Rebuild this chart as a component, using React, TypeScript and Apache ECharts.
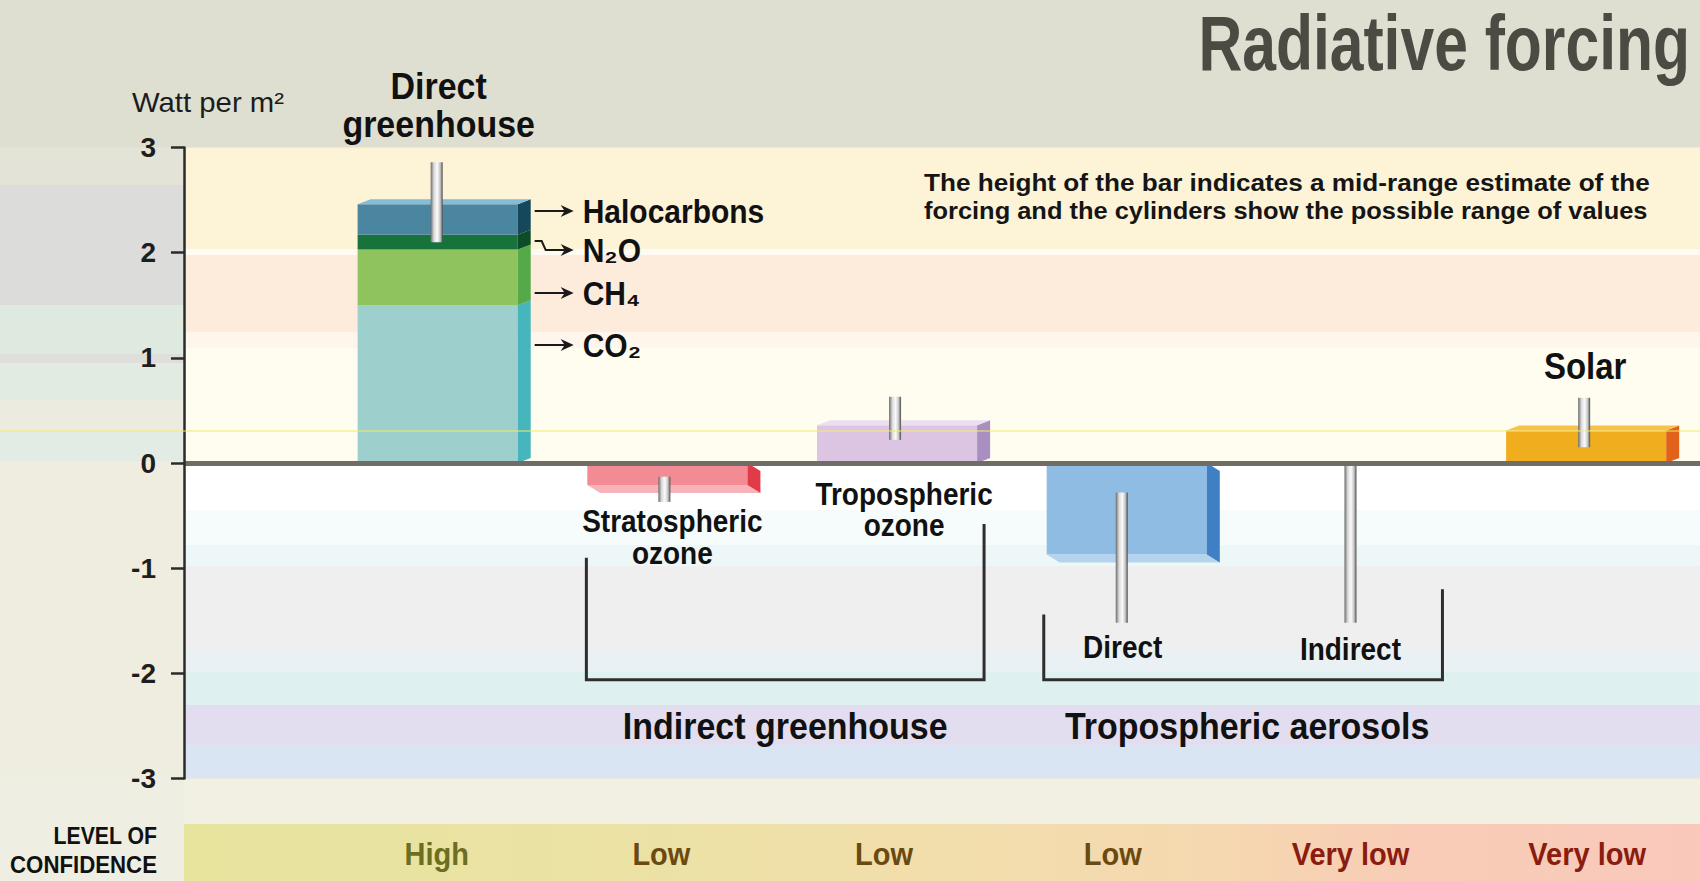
import React, { useEffect, useRef } from "react";
import * as echarts from "echarts";

// ---------------- data ----------------
const categories = [
  "Direct greenhouse",
  "Stratospheric ozone",
  "Tropospheric ozone",
  "Tropospheric aerosols – direct",
  "Tropospheric aerosols – indirect",
  "Solar",
];
const greenhouseGases = ["CO₂", "CH₄", "N₂O", "Halocarbons"];
const greenhouseForcing = [1.5, 0.53, 0.14, 0.29];
const otherForcing = [null, -0.21, 0.36, -0.87, null, 0.31];
const rangeLow = [2.1, -0.37, 0.22, -1.52, -1.52, 0.15];
const rangeHigh = [2.86, -0.13, 0.63, -0.28, 0, 0.62];
const confidence = ["High", "Low", "Low", "Low", "Very low", "Very low"];
const barLabels = ["", "Stratospheric\nozone", "Tropospheric\nozone", "Direct", "Indirect", "Solar"];
const groupNames = ["Indirect greenhouse", "Tropospheric aerosols"];
const yTicks = [-3, -2, -1, 0, 1, 2, 3];

// ---------------- styles ----------------
const FONT = "'Liberation Sans', Arial, Helvetica, sans-serif";
const TALL = 1.1; // condensed look: taller glyphs, squeezed horizontally
const gasStyles = [
  { front: "#9dcfcc", side: "#47b6bc", top: "#b9e0dc" },
  { front: "#8ec35d", side: "#55aa47", top: "#a8d27a" },
  { front: "#17723b", side: "#0c4c26", top: "#2f8a50" },
  { front: "#4a86a0", side: "#15485a", top: "#86bdd6" },
];
const categoryStyles: any[] = [
  null,
  { front: "#f28b93", side: "#e13b48", top: "#f7b3b8" },
  { front: "#dcc5e3", side: "#a88fc0", top: "#ebdff1" },
  { front: "#8ebce3", side: "#3f7fc4", top: "#b4d3ee" },
  null,
  { front: "#f0ae1f", side: "#e2611b", top: "#f6c24a" },
];
const cylinderShift = [0, -2, -1, -4, -5, -1];
const confColors: Record<string, string> = { High: "#6b6f1f", Low: "#6b4a12", "Very low": "#8a1c10" };

const allStyles = [...gasStyles, ...categoryStyles.filter(Boolean)];

// bar segments: [category, from, to, styleIndex, hasCap]
const barData: number[][] = [];
{
  let acc = 0;
  greenhouseForcing.forEach((v, k) => {
    barData.push([0, acc, acc + v, k, k === greenhouseForcing.length - 1 ? 1 : 0]);
    acc += v;
  });
  let si = gasStyles.length;
  otherForcing.forEach((v, i) => {
    if (v != null) {
      barData.push([i, 0, v, si, 1]);
      si++;
    }
  });
}
const rangeData = categories.map((_, i) => [i, rangeLow[i], rangeHigh[i]]);

const DX = 13;
const DY_UP = 5;
const DY_DOWN = 8;

function renderBar(_params: any, api: any) {
  const c = api.value(0);
  const from = api.value(1);
  const to = api.value(2);
  const st = allStyles[api.value(3)];
  const cap = api.value(4);
  const w = api.size([1, 0])[0] * 0.697;
  const p0 = api.coord([c, from]);
  const p1 = api.coord([c, to]);
  const l = p0[0] - w / 2 + 1;
  const r = l + w;
  const children: any[] = [];
  if (to >= from) {
    const yT = p1[1];
    const yB = p0[1];
    children.push({ type: "rect", shape: { x: l, y: yT, width: w, height: yB - yT }, style: { fill: st.front } });
    children.push({
      type: "polygon",
      shape: { points: [[r, yT], [r + DX, yT - DY_UP], [r + DX, yB - DY_UP], [r, yB]] },
      style: { fill: st.side },
    });
    if (cap)
      children.push({
        type: "polygon",
        shape: { points: [[l, yT], [l + DX, yT - DY_UP], [r + DX, yT - DY_UP], [r, yT]] },
        style: { fill: st.top },
      });
  } else {
    const yT = p0[1];
    const yB = p1[1];
    children.push({ type: "rect", shape: { x: l, y: yT, width: w, height: yB - yT }, style: { fill: st.front } });
    children.push({
      type: "polygon",
      shape: { points: [[l, yB], [l + DX, yB + DY_DOWN], [r + DX, yB + DY_DOWN], [r, yB]] },
      style: { fill: st.top },
    });
    children.push({
      type: "polygon",
      shape: { points: [[r, yT], [r + DX, yT + DY_DOWN], [r + DX, yB + DY_DOWN], [r, yB]] },
      style: { fill: st.side },
    });
  }
  return { type: "group", children };
}

function renderCylinder(_params: any, api: any) {
  const c = api.value(0);
  const pL = api.coord([c, api.value(1)]);
  const pH = api.coord([c, api.value(2)]);
  const cw = 12;
  const x = pL[0] - cw / 2 + cylinderShift[c];
  return {
    type: "rect",
    shape: { x, y: pH[1], width: cw, height: pL[1] - pH[1] },
    style: {
      fill: new echarts.graphic.LinearGradient(0, 0, 1, 0, [
        { offset: 0, color: "#6a6a6a" },
        { offset: 0.28, color: "#dcdcdc" },
        { offset: 0.55, color: "#fbfbfb" },
        { offset: 0.8, color: "#c4c4c4" },
        { offset: 1, color: "#4a4a4a" },
      ]),
    },
  };
}

const ctx = typeof document !== "undefined" ? document.createElement("canvas").getContext("2d") : null;
function fitScale(text: string, size: number, weight: string, target: number) {
  if (!ctx) return 1;
  ctx.font = `${weight} ${size}px ${FONT}`;
  const m = ctx.measureText(text).width;
  return m > 0 ? target / m : 1;
}

function txt(text: string, x: number, y: number, o: any = {}) {
  const align = o.align ?? "center";
  const condensed = o.condensed ?? false;
  const size = (o.size ?? 28) * (condensed ? TALL : 1);
  return {
    type: "text",
    silent: true,
    z: 20,
    x,
    y,
    scaleX: o.scaleX ?? (condensed ? 1 / TALL : 1),
    style: {
      text,
      fill: o.color ?? "#111111",
      fontSize: size,
      fontWeight: o.weight ?? "bold",
      fontFamily: FONT,
      align,
      textAlign: align,
      verticalAlign: "middle",
      textVerticalAlign: "middle",
    },
  };
}

function buildGraphics(X: (c: number) => number, Y: (v: number) => number) {
  const els: any[] = [];
  const W = 1700;
  const gl = X(-1.1);
  const yTop = Y(3);
  const yBot = Y(-3);
  const rect = (x: number, y: number, w: number, h: number, fill: any) => ({
    type: "rect",
    silent: true,
    z: -10,
    shape: { x, y, width: w, height: h },
    style: { fill },
  });
  // page background
  els.push(rect(0, 0, W, 881, "#dfdfd1"));
  const leftStripes: [number, number, string][] = [
    [yTop, 185, "#e3e3d7"],
    [185, 305, "#dcdcda"],
    [305, 354, "#deeadf"],
    [354, 363, "#dededa"],
    [363, 400, "#e2ebe1"],
    [400, 432, "#ebebe0"],
    [432, 461, "#e3ece4"],
    [461, 881, "#eeeddf"],
  ];
  leftStripes.forEach(([a, b, c]) => els.push(rect(0, a, gl, b - a, c)));
  const plotBands: [number, number, string][] = [
    [yTop, 249, "#fdf3d7"],
    [249, 255, "#fffbf3"],
    [255, 332, "#fdebdc"],
    [332, 348, "#fef6ec"],
    [348, 463, "#fffdf0"],
    [463, 510, "#ffffff"],
    [510, 545, "#f6fbfc"],
    [545, 566, "#eef7f8"],
    [566, 650, "#efeff0"],
    [650, 672, "#e9f1f4"],
    [672, 705, "#dff0f1"],
    [705, 745, "#e2def0"],
    [745, yBot, "#d9e5f2"],
    [yBot, 824, "#f2f0e2"],
  ];
  plotBands.forEach(([a, b, c]) => els.push(rect(gl, a, W - gl, b - a, c)));
  els.push(rect(0, 778, gl, 103, "#efeee2"));
  els.push(
    rect(
      gl,
      824,
      W - gl,
      57,
      new echarts.graphic.LinearGradient(0, 0, 1, 0, [
        { offset: 0, color: "#e7e49e" },
        { offset: 0.28, color: "#ebe2a4" },
        { offset: 0.5, color: "#f2deac" },
        { offset: 0.68, color: "#f5d8b0" },
        { offset: 0.8, color: "#f8cdb6" },
        { offset: 1, color: "#f9c8bb" },
      ])
    )
  );
  // scan artifact line
  els.push({
    type: "line",
    silent: true,
    z: 30,
    shape: { x1: 0, y1: 431, x2: W, y2: 431 },
    style: { stroke: "#f3ec66", lineWidth: 1.2 },
  });

  // title and notes
  els.push(txt("Radiative forcing", 1690, 43, { size: 78, color: "#4b4b44", align: "right", scaleX: fitScale("Radiative forcing", 78, "bold", 492) }));
  els.push(txt("Watt per m²", 132, 102, { size: 27, weight: "normal", color: "#1c1c1c", align: "left", scaleX: fitScale("Watt per m²", 27, "normal", 152) }));
  const n1 = "The height of the bar indicates a mid-range estimate of the";
  const n2 = "forcing and the cylinders show the possible range of values";
  els.push(txt(n1, 924, 182, { size: 24, align: "left", color: "#151515", scaleX: fitScale(n1, 24, "bold", 726) }));
  els.push(txt(n2, 924, 211, { size: 24, align: "left", color: "#151515", scaleX: fitScale(n2, 24, "bold", 724) }));

  // direct greenhouse heading
  els.push(txt("Direct", X(0) + 2, 86, { size: 34, condensed: true }));
  els.push(txt("greenhouse", X(0) + 2, 124, { size: 34, condensed: true }));

  // greenhouse gas labels with arrows
  const gasLabelY = [345, 293, 250, 211];
  const ax0 = X(0) + 98;
  const tip = X(0) + 137;
  greenhouseGases.forEach((g, k) => {
    const y = gasLabelY[k];
    els.push(txt(g, X(0) + 146, y, { size: 30, align: "left", condensed: true }));
    const pts = k === 2 ? [[ax0, y - 9], [ax0 + 7, y - 9], [ax0 + 11, y], [tip - 6, y]] : [[ax0, y], [tip - 6, y]];
    els.push({ type: "polyline", silent: true, z: 20, shape: { points: pts }, style: { stroke: "#1a1a1a", lineWidth: 2, fill: null } });
    els.push({
      type: "polygon",
      silent: true,
      z: 20,
      shape: { points: [[tip - 13, y - 6], [tip, y], [tip - 13, y + 6], [tip - 9, y]] },
      style: { fill: "#1a1a1a" },
    });
  });

  // bar labels
  const labelPos: [number, number[]][] = [
    [0, []],
    [6, [521, 553]],
    [8, [494, 525]],
    [-3, [647]],
    [-5, [649]],
    [0, [366]],
  ];
  barLabels.forEach((lab, i) => {
    if (!lab) return;
    const [dx, ys] = labelPos[i];
    lab.split("\n").forEach((line, j) => {
      els.push(txt(line, X(i) + dx, ys[j], { size: i === 5 ? 33 : 28, condensed: true }));
    });
  });

  // group brackets
  const bracket = [
    { l: X(1) - 80, r: X(2) + 88, lt: Y(-0.9), rt: Y(-0.58) },
    { l: X(3) - 82, r: X(4) + 87, lt: Y(-1.44), rt: Y(-1.2) },
  ];
  const bb = Y(-2.06);
  groupNames.forEach((name, g) => {
    const b = bracket[g];
    els.push({
      type: "polyline",
      silent: true,
      z: 20,
      shape: { points: [[b.l, b.lt], [b.l, bb], [b.r, bb], [b.r, b.rt]] },
      style: { stroke: "#2e2e2e", lineWidth: 3, fill: null },
    });
    const cx = (b.l + b.r) / 2 + (g === 1 ? 4 : 0);
    els.push(txt(name, cx, 726, { size: 34, condensed: true }));
  });

  // level of confidence
  els.push(txt("LEVEL OF", 157, 836, { size: 24, align: "right", scaleX: fitScale("LEVEL OF", 24, "bold", 104) }));
  els.push(txt("CONFIDENCE", 157, 865, { size: 23, align: "right", scaleX: fitScale("CONFIDENCE", 23, "bold", 147) }));
  const confDx = [0, -5, -12, -13, -5, 2];
  confidence.forEach((c, i) => {
    els.push(txt(c, X(i) + confDx[i], 853, { size: 29, color: confColors[c], condensed: true }));
  });
  return els;
}

const baseOption: any = {
  animation: false,
  grid: { left: 184, right: 0, top: 147.5, bottom: 102.5, containLabel: false },
  xAxis: { type: "value", min: -1.1, max: 5.5, show: false },
  yAxis: {
    type: "value",
    min: yTicks[0],
    max: yTicks[yTicks.length - 1],
    interval: 1,
    z: 5,
    axisLine: { show: true, onZero: false, lineStyle: { color: "#2b2b2b", width: 2.5 } },
    axisTick: { show: true, length: 13, inside: false, lineStyle: { color: "#2b2b2b", width: 2.5 } },
    axisLabel: { margin: 28, fontSize: 28, fontWeight: "bold", color: "#1e1e1e", fontFamily: FONT },
    splitLine: { show: false },
  },
  series: [
    {
      type: "custom",
      name: "forcing",
      z: 2,
      renderItem: renderBar,
      encode: { x: 0, y: [1, 2] },
      data: barData,
      silent: true,
    },
    {
      type: "line",
      name: "zero",
      z: 3,
      data: [],
      silent: true,
      markLine: {
        silent: true,
        symbol: ["none", "none"],
        label: { show: false },
        lineStyle: { color: "#726c67", width: 5, type: "solid" },
        data: [{ yAxis: 0 }],
      },
    },
    {
      type: "custom",
      name: "range",
      z: 4,
      renderItem: renderCylinder,
      encode: { x: 0, y: [1, 2] },
      data: rangeData,
      silent: true,
    },
  ],
};

export default function App() {
  const ref = useRef<HTMLDivElement>(null);
  useEffect(() => {
    document.body.style.margin = "0";
    const el = ref.current as HTMLDivElement;
    const chart = echarts.init(el, null, { renderer: "svg" });
    chart.setOption(baseOption);
    const X = (c: number) => chart.convertToPixel({ xAxisIndex: 0 }, c) as unknown as number;
    const Y = (v: number) => chart.convertToPixel({ yAxisIndex: 0 }, v) as unknown as number;
    chart.setOption({ graphic: buildGraphics(X, Y) });
    return () => chart.dispose();
  }, []);
  return (
    <div
      ref={ref}
      style={{ position: "absolute", left: 0, top: 0, width: 1700, height: 881, overflow: "hidden" }}
    />
  );
}
